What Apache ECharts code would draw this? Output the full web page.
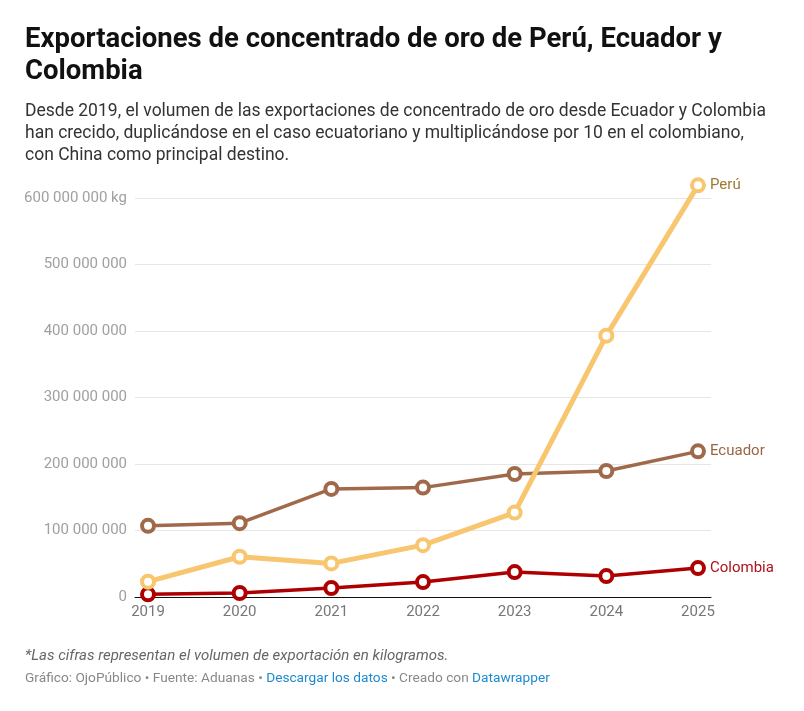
<!DOCTYPE html>
<html>
<head>
<meta charset="utf-8">
<script src="https://cdn.jsdelivr.net/npm/echarts@6/dist/echarts.min.js"></script>
<style>
  html, body { margin: 0; padding: 0; background: #fff; }
  #chart { width: 804px; height: 711px; }
</style>
</head>
<body>
<div id="chart"></div>
<script>
// datos (kg)
var years = [2019, 2020, 2021, 2022, 2023, 2024, 2025];
var peru = [23000000, 60500000, 50500000, 78000000, 127000000, 393000000, 619000000];
var ecuador = [107000000, 111000000, 162500000, 164500000, 185000000, 189500000, 219000000];
var colombia = [4000000, 6000000, 13500000, 22500000, 37500000, 31500000, 43500000];
var yTicks = [0, 100000000, 200000000, 300000000, 400000000, 500000000, 600000000];

var chart = echarts.init(document.getElementById('chart'));

function pairs(vals) {
  return years.map(function (y, i) { return [y, vals[i]]; });
}

function fmt(v) {
  var s = String(Math.round(v)).replace(/\B(?=(\d{3})+(?!\d))/g, ' ');
  if (v === yTicks[yTicks.length - 1]) s += ' kg';
  return s;
}

function lineSeries(name, vals, color, labelColor, width) {
  return {
    name: name,
    type: 'line',
    data: pairs(vals),
    clip: false,
    symbol: 'circle',
    symbolSize: 12,
    lineStyle: { color: color, width: width },
    itemStyle: { color: '#fff', borderColor: color, borderWidth: 4 },
    endLabel: {
      show: true,
      formatter: name,
      color: labelColor,
      fontSize: 15,
      fontFamily: 'Roboto',
      distance: 12
    },
    emphasis: { disabled: true },
    animation: false
  };
}

var option = {
  backgroundColor: '#fff',
  textStyle: { fontFamily: 'Roboto' },
  title: {
    text: 'Exportaciones de concentrado de oro de Perú, Ecuador y\nColombia',
    subtext: 'Desde 2019, el volumen de las exportaciones de concentrado de oro desde Ecuador y Colombia\nhan crecido, duplicándose en el caso ecuatoriano y multiplicándose por 10 en el colombiano,\ncon China como principal destino.',
    left: 20,
    top: 19,
    itemGap: 13,
    textStyle: {
      fontFamily: 'Roboto', fontSize: 27.5, fontWeight: 'bold', color: '#111', lineHeight: 32
    },
    subtextStyle: {
      fontFamily: 'Roboto', fontSize: 17.5, color: '#333', lineHeight: 22
    }
  },
  grid: { left: 135, right: 93, top: 198, bottom: 114 },
  xAxis: {
    type: 'value',
    min: function () { return 2018.858; },
    max: function () { return 2025.142; },
    axisLine: { show: true, onZero: false, lineStyle: { color: '#111', width: 1 } },
    axisTick: { show: false },
    splitLine: { show: false },
    axisLabel: {
      customValues: years,
      color: '#777',
      fontSize: 15,
      margin: 8,
      formatter: function (v) { return String(v); }
    }
  },
  yAxis: {
    type: 'value',
    min: 0,
    max: 600000000,
    interval: 100000000,
    axisLine: { show: false },
    axisTick: { show: false },
    splitLine: { lineStyle: { color: '#e6e6e6', width: 1 } },
    axisLabel: { color: '#a0a0a0', fontSize: 15, margin: 8, formatter: fmt }
  },
  series: [
    lineSeries('Colombia', colombia, '#ae0000', '#b0101a', 3.5),
    lineSeries('Ecuador', ecuador, '#a0694a', '#9a6646', 3.5),
    lineSeries('Perú', peru, '#f8c66e', '#9c7a30', 5)
  ],
  graphic: [
    {
      type: 'text', left: 25, top: 649,
      style: {
        text: '*Las cifras representan el volumen de exportación en kilogramos.',
        font: 'italic 15px Roboto', fill: '#666'
      }
    },
    {
      type: 'text', left: 25, top: 672,
      style: {
        text: '{g|Gráfico: OjoPúblico • Fuente: Aduanas • }{l|Descargar los datos}{g| • Creado con }{l|Datawrapper}',
        rich: {
          g: { fontFamily: 'Roboto', fontSize: 13.7, fill: '#888' },
          l: { fontFamily: 'Roboto', fontSize: 13.7, fill: '#1d8ad0' }
        }
      }
    }
  ]
};

chart.setOption(option);
</script>
</body>
</html>
